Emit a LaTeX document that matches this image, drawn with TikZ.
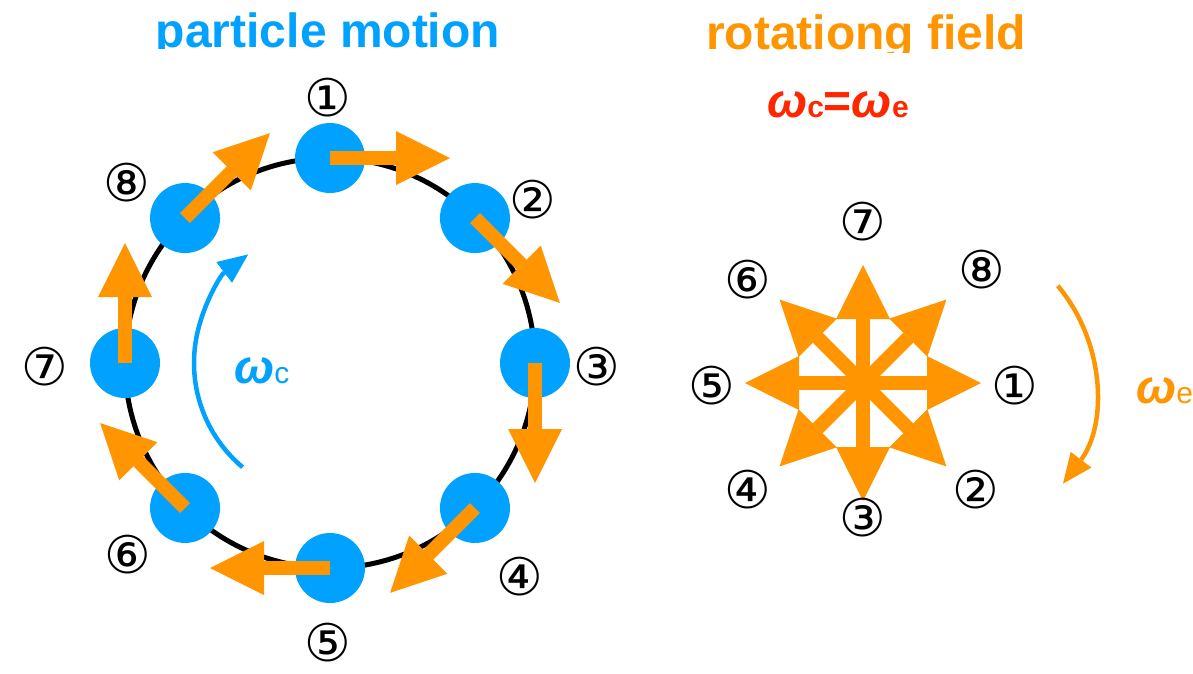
\documentclass[tikz,border=0pt]{standalone}
\usepackage{fontspec}
\setmainfont{Liberation Sans}
\newfontfamily\numfont{DejaVu Sans}
\usetikzlibrary{arrows.meta,positioning,calc}
\definecolor{pblue}{RGB}{0,161,255}
\definecolor{forange}{RGB}{255,149,0}
\definecolor{eqred}{RGB}{255,38,0}
\newcommand{\cnum}[1]{\char\numexpr9311+#1\relax}
\newcommand{\wsym}[1]{{\bfseries\itshape\fontsize{48}{48}\selectfont ω}{\fontsize{30}{30}\selectfont #1}}

\begin{document}
\begin{tikzpicture}[
  x=1pt, y=-1pt,
  particle/.style={circle, fill=pblue, minimum size=70pt, inner sep=0pt},
  push/.style={draw=forange, line width=14pt,
    -{Triangle[length=54pt, width=54pt, line width=0pt, fill=forange]}},
  num/.style={font=\numfont\fontsize{52}{52}\selectfont, inner sep=0pt},
  head/.style={font=\bfseries\fontsize{48}{48}\selectfont, anchor=base, inner sep=0pt},
  spin/.style={line width=4.5pt, -{Triangle[length=30pt, width=26pt, line width=0pt]}},
  lbl/.style={anchor=base west, inner sep=0pt}
]
  \useasboundingbox (0,0) rectangle (1193,673);
  % titles, cut at the top edge
  \begin{scope}
    \clip (0,0) rectangle (600,48);
    \node[head, text=pblue] (tleft) at (328,47) {particle motion};
  \end{scope}
  \begin{scope}
    \clip (600,0) rectangle (1193,52);
    \node[head, text=forange] (tright) at (866,49) {rotationg field};
  \end{scope}
  \node[lbl, text=eqred, font=\bfseries\fontsize{48}{48}\selectfont] (eq) at (767,117) {\wsym{c}=\wsym{e}};

  % particle orbit
  \coordinate (orb) at (330,363);
  \draw[line width=5pt] (orb) circle[radius=205];
  \foreach \k in {1,...,8}
    \node[particle] (p\k) at ($(orb)+({45*\k-135}:205)$) {};
  \foreach \k in {1,...,8}
    \draw[push] (p\k.center) -- ++({45*\k-45}:120);
  \foreach \k/\px/\py in {1/328/98, 2/533/200, 3/597/367, 4/520/577,
                          5/328/643, 6/128/555, 7/45/367, 8/127/183}
    \node[num] (l\k) at (\px,\py) {\cnum{\k}};
  \draw[spin, pblue] (orb) ++(130:136) arc[start angle=130, end angle=233, radius=136];
  \node[lbl, text=pblue] (wc) at (234,383) {\wsym{c}};

  % rotating field
  \coordinate (star) at (863,383);
  \foreach \k in {1,...,8}
    \draw[push] (star) -- ++({45*\k-45}:118);
  \foreach \k/\px/\py in {1/1015/386, 2/976/490, 3/863/518, 4/748/490,
                          5/712/386, 6/748/280, 7/863/222, 8/982/270}
    \node[num] (f\k) at (\px,\py) {\cnum{\k}};
  \coordinate (fc) at (936,388);
  \draw[spin, forange] (fc) ++(-40:159) arc[start angle=-40, end angle=37, radius=159];
  \node[lbl, text=forange] (we) at (1136,403) {\wsym{e}};
\end{tikzpicture}
\end{document}
